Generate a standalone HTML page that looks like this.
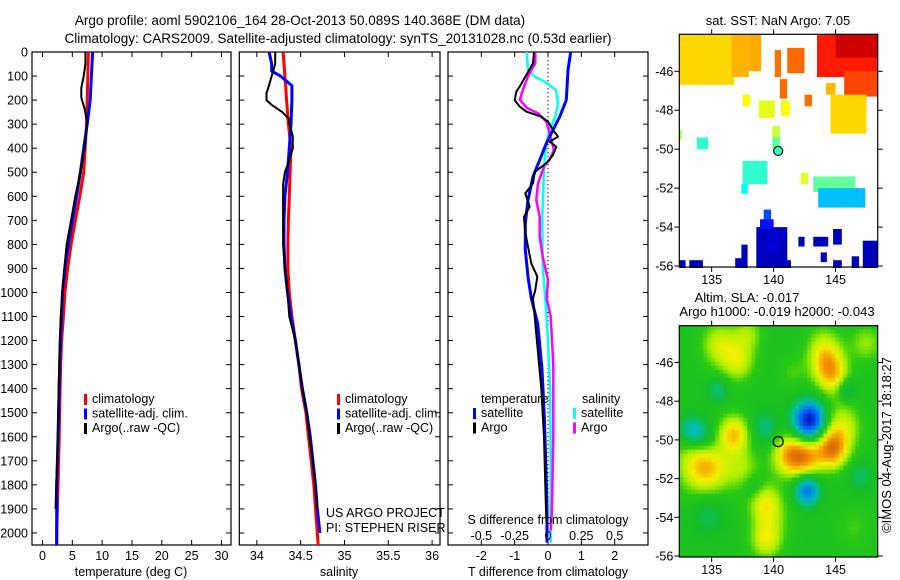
<!DOCTYPE html>
<html><head><meta charset="utf-8">
<style>
html,body{margin:0;padding:0;background:#fff;}
svg{display:block;font-family:"Liberation Sans",Arial,sans-serif;}
</style></head>
<body>
<svg id="fig" width="900" height="580" viewBox="0 0 900 580" xmlns="http://www.w3.org/2000/svg">
<text x="300" y="25" font-size="13.5" text-anchor="middle">Argo profile: aoml 5902106_164 28-Oct-2013 50.089S 140.368E (DM data)</text>
<text x="338" y="43" font-size="13.5" text-anchor="middle">Climatology: CARS2009. Satellite-adjusted climatology: synTS_20131028.nc (0.53d earlier)</text>
<g id="g1"></g>
<g id="g2"></g>
<g id="g3"></g>
<g id="m1"></g>
<g id="m2"></g>
<text x="778" y="25" font-size="13" text-anchor="middle">sat. SST: NaN Argo: 7.05</text>
<text x="747" y="302" font-size="13" text-anchor="middle">Altim. SLA: -0.017</text>
<text x="777" y="316" font-size="13" text-anchor="middle">Argo h1000: -0.019 h2000: -0.043</text>
<text transform="translate(891,445) rotate(-90)" font-size="13" text-anchor="middle">©IMOS 04-Aug-2017 18:18:27</text>
</svg>
<script>
// ---------- profile data ----------
const tClimDepth = [0,300,500,600,700,800,900,1000,1100,1200,1300,1400,1600,1800,2000,2050];
const tClim      = [7.7,7.4,6.9,6.25,5.5,4.8,4.2,3.75,3.5,3.2,3.05,2.95,2.8,2.6,2.4,2.4];
const tSatDepth  = [0,100,200,300,400,500,600,700,800,900,1000,1100,1200,1400,1600,1800,2000,2050];
const tSat       = [8.4,8.2,8.0,7.5,6.9,6.35,5.7,5.0,4.35,3.75,3.35,3.2,3.0,2.8,2.6,2.4,2.37,2.37];
const tArgoDepth = [0,50,100,150,190,240,300,400,500,600,700,800,900,1000,1100,1200,1400,1600,1800,1900];
const tArgo      = [7.2,7.2,6.9,6.5,6.5,7.1,7.5,7.05,6.35,5.5,4.8,4.05,3.65,3.3,3.05,2.9,2.7,2.6,2.3,2.2];

const sClimDepth = [0,100,200,300,400,500,600,700,800,900,1000,1100,1200,1300,1400,1500,1600,1700,1800,1900,2000,2050];
const sClim      = [34.30,34.32,34.34,34.36,34.39,34.38,34.37,34.36,34.355,34.355,34.37,34.40,34.44,34.48,34.51,34.56,34.59,34.62,34.65,34.67,34.69,34.70];
const sSatDepth  = [0,50,80,100,140,200,300,400,500,600,700,800,900,1000,1100,1200,1300,1400,1500,1600,1700,1800,1900,2000];
const sSat       = [34.14,34.17,34.17,34.27,34.40,34.40,34.39,34.37,34.35,34.32,34.31,34.31,34.32,34.35,34.39,34.44,34.48,34.52,34.57,34.61,34.64,34.67,34.69,34.72];
const sArgoDepth = [0,50,100,150,170,200,220,250,280,300,350,400,450,500,550,600,700,800,900,1000,1100,1200,1300,1400,1500,1600,1700,1800,1900];
const sArgo      = [34.21,34.21,34.17,34.13,34.11,34.11,34.17,34.29,34.37,34.37,34.41,34.41,34.37,34.32,34.30,34.30,34.30,34.30,34.32,34.35,34.37,34.44,34.48,34.52,34.57,34.60,34.64,34.67,34.69];

const dTSatDepth = [0,75,200,269,324,380,449,518,615,712,823,934,1024,1130,1321,1512,1703,1893,2040];
const dTSat      = [0.68,0.6,0.55,0.35,0.15,-0.05,-0.25,-0.45,-0.6,-0.68,-0.68,-0.6,-0.5,-0.31,-0.18,-0.11,-0.07,-0.03,-0.03];
const dTArgoDepth= [0,47,103,144,165,200,227,248,269,290,324,352,373,394,428,463,498,546,588,643,685,726,782,879,934,990,1024,1100,1250,1400,1600,1800,1950];
const dTArgo     = [-0.42,-0.45,-0.68,-0.85,-0.95,-1.0,-0.85,-0.65,-0.2,0.0,0.15,0.3,0.05,0.25,0.15,-0.05,-0.4,-0.45,-0.68,-0.55,-0.72,-0.7,-0.64,-0.5,-0.32,-0.38,-0.45,-0.4,-0.3,-0.2,-0.12,-0.08,-0.05];
const dSSatDepth = [0,75,103,123,158,213,269,324,380,477,685,893,1024,1200,1400,1700,2040];
const dSSat      = [-0.16,-0.15,-0.1,-0.025,0.06,0.075,0.055,0.012,-0.012,-0.03,-0.043,-0.04,-0.02,0.0,0.015,0.02,0.02];
const dSArgoDepth= [0,47,89,158,200,234,255,290,324,366,407,449,470,546,615,685,768,851,948,1024,1100,1300,1600,1900,1990];
const dSArgo     = [-0.095,-0.095,-0.14,-0.19,-0.21,-0.155,-0.075,-0.012,0.005,0.025,0.045,0.012,-0.025,-0.075,-0.088,-0.062,-0.062,-0.04,0.0,-0.01,0.02,0.04,0.04,0.03,0.02];

const depthTicks = [0,100,200,300,400,500,600,700,800,900,1000,1100,1200,1300,1400,1500,1600,1700,1800,1900,2000];
const tTicks = [0,5,10,15,20,25,30];
const sTicks = [34,34.5,35,35.5,36];
const dTTicks = [-2,-1,0,1,2];
const dSTicks = [-0.5,-0.25,0,0.25,0.5];

// ---------- map data ----------
const sstLon1 = [132.4,136.6,138.0,140.1,141.1,140.5,142.5,137.5,138.8,140.6,139.9,139.9,133.8,132.4,137.5,137.4,142.2,143.2,143.6,143.5,145.0,145.7,144.6,144.2,138.6,139.2,138.9,137.4,136.9,132.4,133.2,142.0,143.2,143.8,144.8,144.8,146.3,147.2,140.8,139.5];
const sstLon2 = [136.8,138.0,139.0,140.6,142.5,141.1,143.1,138.1,140.1,141.3,140.5,140.5,134.7,132.6,139.5,137.9,142.8,146.6,147.4,148.4,148.4,148.4,147.5,145.0,141.1,139.8,140.0,137.9,137.6,132.9,134.3,142.5,144.4,144.3,145.5,145.5,146.9,148.4,141.4,140.4];
const sstLat1 = [-44.1,-44.1,-44.1,-44.9,-44.8,-46.4,-47.2,-47.2,-47.5,-47.5,-48.8,-49.4,-49.4,-49.0,-50.6,-51.8,-51.2,-51.4,-52.0,-44.1,-44.1,-46.0,-47.2,-46.6,-54.0,-53.1,-53.6,-54.9,-55.6,-55.7,-55.7,-54.5,-54.5,-55.3,-54.1,-55.7,-55.5,-54.7,-55.7,-54.3];
const sstLat2 = [-46.7,-46.3,-46.0,-46.3,-46.1,-47.4,-47.8,-47.8,-48.4,-48.3,-49.4,-50.0,-50.0,-49.5,-51.8,-52.3,-51.8,-52.2,-53.0,-46.3,-45.3,-47.3,-49.2,-47.2,-56.1,-53.7,-54.1,-56.1,-56.1,-56.1,-56.1,-55.0,-55.0,-55.8,-54.9,-56.1,-56.1,-56.1,-56.1,-55.3];
const sstTemp = [10.3,10.8,10.9,11.7,11.8,11.8,11.7,9.8,9.4,9.8,9.0,7.6,6.9,8.6,6.9,6.2,9.3,7.6,5.4,12.9,13.9,12.3,10.3,10.7,1.9,3.8,3.0,1.8,1.8,1.8,1.8,1.8,1.8,1.8,1.8,1.8,1.8,1.8,1.8,2.2];
// SLA anomaly blobs
const slaLon = [135.5,137.2,136.8,134.2,135.5,133.3,139.3,142.9,145.9,144.3,141.3,142.7,144.7,145.5,142.7,133.7,139.3,139.4,134.7,147.0,138.4,138.0,147.5,135.0,137.5,144.8,134.5,139.8,136.5,144.0,146.5,141.5];
const slaLat = [-45.0,-46.0,-49.7,-49.8,-47.4,-49.5,-49.4,-49.0,-47.4,-46.0,-50.8,-50.9,-50.5,-49.3,-52.6,-51.1,-53.2,-55.2,-53.8,-51.9,-52.4,-44.5,-45.0,-51.5,-51.5,-46.8,-51.8,-54.0,-45.5,-45.0,-54.5,-46.5];
const slaVal = [0.09,0.09,0.19,-0.09,-0.09,-0.10,-0.09,-0.34,-0.10,0.16,0.21,0.17,0.24,0.13,-0.22,0.10,0.12,0.13,-0.07,-0.07,-0.06,0.08,0.09,0.08,0.09,0.12,0.07,0.07,0.06,0.07,0.05,0.05];
const slaRad = [1.0,0.9,0.9,0.8,0.6,0.7,0.8,0.9,0.5,1.0,1.0,0.9,0.9,1.1,0.7,1.2,0.9,0.9,1.0,0.7,0.6,0.8,0.9,1.0,1.0,0.9,1.5,1.1,1.3,1.0,1.0,0.8];
const argoLon = 140.37, argoLat = -50.09, argoSST = 7.05;

const NS = "http://www.w3.org/2000/svg";
function mk(parent, tag, attrs, text){
  const e = document.createElementNS(NS, tag);
  for (const k in attrs) e.setAttribute(k, attrs[k]);
  if (text !== undefined) e.textContent = text;
  parent.appendChild(e);
  return e;
}
function jet(t){
  t = Math.max(0, Math.min(1, t));
  const c = v => Math.round(255*Math.max(0, Math.min(1, v)));
  return `rgb(${c(1.5-Math.abs(4*t-3))},${c(1.5-Math.abs(4*t-2))},${c(1.5-Math.abs(4*t-1))})`;
}
const rampV = [-0.36,-0.25,-0.12,-0.03,0.04,0.10,0.16,0.23,0.32];
const rampC = [[0,0,150],[0,90,255],[0,190,190],[20,190,40],[40,200,20],[170,240,0],[245,240,0],[245,150,0],[200,80,0]];
function slaColor(v){
  if (v <= rampV[0]) return `rgb(${rampC[0].join(',')})`;
  for (let i = 1; i < rampV.length; i++){
    if (v <= rampV[i]){
      const f = (v - rampV[i-1]) / (rampV[i] - rampV[i-1]);
      const a = rampC[i-1], b = rampC[i];
      return `rgb(${Math.round(a[0]+f*(b[0]-a[0]))},${Math.round(a[1]+f*(b[1]-a[1]))},${Math.round(a[2]+f*(b[2]-a[2]))})`;
    }
  }
  return `rgb(${rampC[rampC.length-1].join(',')})`;
}

const PT = 52, PB = 545, D0 = 0, D1 = 2050;
const yD = d => PT + (d - D0) / (D1 - D0) * (PB - PT);

function panel(g, x0, x1, v0, v1, ticks, name, depthLabels){
  const xs = v => x0 + (v - v0) / (v1 - v0) * (x1 - x0);
  const r = mk(g, 'rect', {x:x0, y:PT, width:x1-x0, height:PB-PT, fill:'#fff', stroke:'#000', 'stroke-width':1.2});
  
  
  depthTicks.forEach(d => {
    const y = yD(d);
    const tl = mk(g, 'line', {x1:x0, x2:x0+5, y1:y, y2:y, stroke:'#000'});
    
    
    mk(g, 'line', {x1:x1, x2:x1-5, y1:y, y2:y, stroke:'#000'});
    if (depthLabels){
      const t = mk(g, 'text', {x:x0-4, y:y+4.5, 'font-size':12.5, 'text-anchor':'end'}, String(d));
      
      
    }
  });
  ticks.forEach(v => {
    const x = xs(v);
    mk(g, 'line', {x1:x, x2:x, y1:PB, y2:PB-5, stroke:'#000'});
    mk(g, 'line', {x1:x, x2:x, y1:PT, y2:PT+5, stroke:'#000'});
  });
  return xs;
}
function series(g, xs, vals, depths, color, w, name){
  let d = '';
  vals.forEach((v, i) => { d += (i ? 'L' : 'M') + xs(v).toFixed(1) + ',' + yD(depths[i]).toFixed(1); });
  const p = mk(g, 'path', {d, fill:'none', stroke:color, 'stroke-width':w, 'stroke-linejoin':'round'});
  
  
}
function tickLabels(g, xs, ticks, y, name){
  ticks.forEach(v => {
    const t = mk(g, 'text', {x:xs(v), y:y, 'font-size':12.5, 'text-anchor':'middle'}, String(v));
    
    
  });
}
function legend(g, x, y, items){
  items.forEach((it, i) => {
    const yy = y + i*14.5;
    const b = mk(g, 'rect', {x:x, y:yy-9, width:3, height:11, fill:it[1]});
    
    
    const t = mk(g, 'text', {x:x+8, y:yy, 'font-size':12.5}, it[0]);
    
    
  });
}

const g1 = document.getElementById('g1');
const x1s = panel(g1, 32, 231, -1.76, 31.6, tTicks, 'temperature-panel', true);
series(g1, x1s, tClim, tClimDepth, '#ff0000', 3, 'temperature-climatology-line');
series(g1, x1s, tSat, tSatDepth, '#0000ff', 3, 'temperature-satellite-line');
series(g1, x1s, tArgo, tArgoDepth, '#000000', 2, 'temperature-argo-line');
tickLabels(g1, x1s, tTicks, 560, 'temperature-tick-label');
let t1 = mk(g1, 'text', {x:131, y:576, 'font-size':12.5, 'text-anchor':'middle'}, 'temperature (deg C)');


legend(g1, 84, 403, [['climatology','#ff0000'],['satellite-adj. clim.','#0000ff'],['Argo(..raw -QC)','#000000']]);

const g2 = document.getElementById('g2');
const x2s = panel(g2, 239.3, 440, 33.80, 36.09, sTicks, 'salinity-panel', false);
series(g2, x2s, sClim, sClimDepth, '#ff0000', 3, 'salinity-climatology-line');
series(g2, x2s, sSat, sSatDepth, '#0000ff', 3, 'salinity-satellite-line');
series(g2, x2s, sArgo, sArgoDepth, '#000000', 2, 'salinity-argo-line');
tickLabels(g2, x2s, sTicks, 560, 'salinity-tick-label');
let t2 = mk(g2, 'text', {x:339, y:576, 'font-size':12.5, 'text-anchor':'middle'}, 'salinity');


legend(g2, 337, 403, [['climatology','#ff0000'],['satellite-adj. clim.','#0000ff'],['Argo(..raw -QC)','#000000']]);
let c1 = mk(g2, 'text', {x:326, y:517, 'font-size':12.5}, 'US ARGO PROJECT');


let c2 = mk(g2, 'text', {x:326, y:532, 'font-size':12.5}, 'PI: STEPHEN RISER');



const g3 = document.getElementById('g3');
const x3s = panel(g3, 448, 648, -3, 3, dTTicks, 'difference-panel', false);
const x3S = v => x3s(v*4);
mk(g3, 'line', {x1:x3s(0), x2:x3s(0), y1:PT, y2:PB, stroke:'#000', 'stroke-dasharray':'1.2,2.8'});
series(g3, x3S, dSSat, dSSatDepth, '#00ffff', 2.5, 'salinity-diff-satellite-line');
series(g3, x3S, dSArgo, dSArgoDepth, '#ff00ff', 2.5, 'salinity-diff-argo-line');
series(g3, x3s, dTSat, dTSatDepth, '#0000ff', 3, 'temperature-diff-satellite-line');
series(g3, x3s, dTArgo, dTArgoDepth, '#000000', 2, 'temperature-diff-argo-line');
tickLabels(g3, x3s, dTTicks, 560, 'tdiff-tick-label');
dSTicks.forEach(v => {
  const t = mk(g3, 'text', {x:x3S(v), y:540, 'font-size':12.5, 'text-anchor':'middle'}, String(v));
  
  
});
let t3 = mk(g3, 'text', {x:548, y:524, 'font-size':12.5, 'text-anchor':'middle'}, 'S difference from climatology');


let t4 = mk(g3, 'text', {x:548, y:576, 'font-size':12.5, 'text-anchor':'middle'}, 'T difference from climatology');


let lh1 = mk(g3, 'text', {x:481, y:403, 'font-size':12.5}, 'temperature');


let lh2 = mk(g3, 'text', {x:582, y:403, 'font-size':12.5}, 'salinity');


legend(g3, 473, 417, [['satellite','#0000ff'],['Argo','#000000']]);
legend(g3, 573, 417, [['satellite','#00ffff'],['Argo','#ff00ff']]);

const MX0 = 679.3, MX1 = 877.7, LON0 = 132.39, LON1 = 148.4, LAT0 = -44.1, LAT1 = -56.05;
function mapFrame(g, top, bot){
  const lonX = v => MX0 + (v - LON0) / (LON1 - LON0) * (MX1 - MX0);
  const latY = v => top + (v - LAT0) / (LAT1 - LAT0) * (bot - top);
  return {lonX, latY};
}
function mapAxes(g, f, top, bot, labelY){
  const fr = mk(g, 'rect', {x:MX0, y:top, width:MX1-MX0, height:bot-top, fill:'none', stroke:'#000', 'stroke-width':1.2});
  
  
  [135,140,145].forEach(v => {
    const x = f.lonX(v);
    mk(g, 'line', {x1:x, x2:x, y1:bot, y2:bot+5, stroke:'#000'});
    mk(g, 'line', {x1:x, x2:x, y1:top, y2:top-5, stroke:'#000'});
    const t = mk(g, 'text', {x:x, y:labelY, 'font-size':12.5, 'text-anchor':'middle'}, String(v));
    
    
  });
  [-46,-48,-50,-52,-54,-56].forEach(v => {
    const y = f.latY(v);
    mk(g, 'line', {x1:MX0, x2:MX0-5, y1:y, y2:y, stroke:'#000'});
    mk(g, 'line', {x1:MX1, x2:MX1+5, y1:y, y2:y, stroke:'#000'});
    const t = mk(g, 'text', {x:MX0-6, y:y+4.5, 'font-size':12.5, 'text-anchor':'end'}, String(v));
    
    
  });
}
const m1 = document.getElementById('m1');
const f1 = mapFrame(m1, 34.3, 267);
const sstC = v => jet((v - 1) / 14);
sstTemp.forEach((v, i) => {
  const x = f1.lonX(sstLon1[i]), y = f1.latY(sstLat1[i]);
  const r = mk(m1, 'rect', {x:x.toFixed(1), y:y.toFixed(1), width:(f1.lonX(sstLon2[i])-x).toFixed(1), height:(f1.latY(sstLat2[i])-y).toFixed(1), fill:sstC(v)});
  
  
});
mapAxes(m1, f1, 34.3, 267, 284);
let ad1 = mk(m1, 'circle', {cx:f1.lonX(argoLon), cy:f1.latY(argoLat), r:4.5, fill:sstC(argoSST), stroke:'#000', 'stroke-width':1.2});



const m2 = document.getElementById('m2');
const f2 = mapFrame(m2, 325.7, 557);
const cell = 4;
for (let px = MX0; px < MX1; px += cell){
  for (let py = 325.7; py < 557; py += cell){
    const lon = LON0 + (px + cell/2 - MX0) / (MX1 - MX0) * (LON1 - LON0);
    const lat = LAT0 + (py + cell/2 - 325.7) / (557 - 325.7) * (LAT1 - LAT0);
    let s = 0.0;
    for (let k = 0; k < slaVal.length; k++){
      const dx = lon - slaLon[k], dy = (lat - slaLat[k]) * 1.3;
      s += slaVal[k] * Math.exp(-(dx*dx + dy*dy) / (2 * slaRad[k] * slaRad[k]));
    }
    const r = mk(m2, 'rect', {x:px.toFixed(1), y:py.toFixed(1), width:Math.min(cell, MX1-px)+0.3, height:Math.min(cell, 557-py)+0.3, fill:slaColor(s)});
    
    
  }
}
mapAxes(m2, f2, 325.7, 557, 574);
let ad2 = mk(m2, 'circle', {cx:f2.lonX(argoLon), cy:f2.latY(argoLat), r:5, fill:'none', stroke:'#000', 'stroke-width':1.2});


</script>
</body></html>
